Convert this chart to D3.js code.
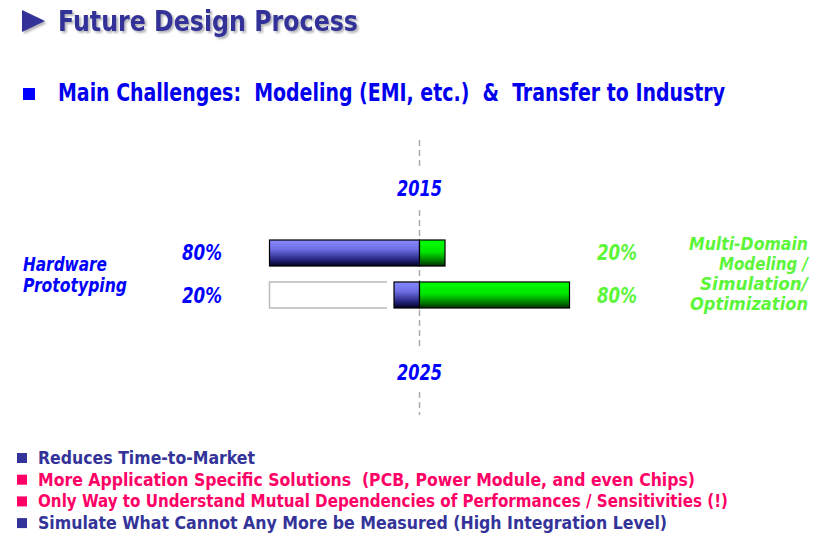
<!DOCTYPE html>
<html>
<head>
<meta charset="utf-8">
<script src="https://cdn.jsdelivr.net/npm/d3@7"></script>
<style>
  body { margin: 0; background: #fff; }
  text { font-family: "DejaVu Sans Condensed", "DejaVu Sans", sans-serif; font-weight: bold; white-space: pre; }
</style>
</head>
<body>
<div id="chart"></div>
<script>
// rows of the comparison (top = today, bottom = future)
const years = ["2015", "2025"];
const hwShare = [80, 20];          // hardware prototyping, %
const simShare = [20, 80];         // multi-domain modeling, %
// bar extents as drawn, in the same percent units
const hwLen = [80, 13.6];
const simLen = [13.6, 80];
const oldHwLen = [0, 80];          // empty outline of the old hardware share
const oldHwGap = [0, 17.3];
const bullets = [
  "Reduces Time-to-Market",
  "More Application Specific Solutions  (PCB, Power Module, and even Chips)",
  "Only Way to Understand Mutual Dependencies of Performances / Sensitivities (!)",
  "Simulate What Cannot Any More be Measured (High Integration Level)"
];
const bulletColors = ["#333399", "#ff0066", "#ff0066", "#333399"];
const bulletWidths = [217, 657, 690, 629];
const simLabel = ["Multi-Domain", "Modeling /", "Simulation/", "Optimization"];
const simLabelW = [119, 89, 108, 118];
const hwLabel = ["Hardware", "Prototyping"];
const hwLabelW = [84, 104];

var W = 826, H = 542;
var svg = d3.select("#chart").append("svg")
    .attr("width", W).attr("height", H);

var defs = svg.append("defs");
function grad(id, stops) {
    var g = defs.append("linearGradient").attr("id", id)
        .attr("x1", 0).attr("y1", 0).attr("x2", 0).attr("y2", 1);
    stops.forEach(function (s) {
        g.append("stop").attr("offset", s[0]).attr("stop-color", s[1]);
    });
}
grad("gBlue", [[0, "#8888ff"], [0.35, "#7070e6"], [0.75, "#262680"], [1, "#000022"]]);
grad("gGreen", [[0, "#00ff00"], [0.45, "#00e600"], [0.8, "#007a00"], [1, "#002a00"]]);

var shadow = defs.append("filter").attr("id", "sh")
    .attr("x", -0.05).attr("y", -0.2).attr("width", 1.1).attr("height", 1.5);
shadow.append("feOffset").attr("in", "SourceAlpha").attr("dx", 2).attr("dy", 2).attr("result", "o");
shadow.append("feGaussianBlur").attr("in", "o").attr("stdDeviation", 0.8).attr("result", "b");
shadow.append("feComponentTransfer").attr("in", "b").attr("result", "c")
    .append("feFuncA").attr("type", "linear").attr("slope", 0.3);
var mg = shadow.append("feMerge");
mg.append("feMergeNode").attr("in", "c");
mg.append("feMergeNode").attr("in", "SourceGraphic");

// title
svg.append("path")
    .attr("d", "M22,10 L45,21 L22,32 Z")
    .attr("fill", "#333399").attr("filter", "url(#sh)");
svg.append("text")
    .attr("x", 58).attr("y", 31)
    .attr("font-size", 29)
    .attr("fill", "#333399")
    .attr("textLength", 300).attr("lengthAdjust", "spacingAndGlyphs")
    .attr("filter", "url(#sh)")
    .text("Future Design Process");

// subtitle
svg.append("rect").attr("x", 23).attr("y", 88).attr("width", 12).attr("height", 12).attr("fill", "#0000ff");
svg.append("text")
    .attr("x", 58).attr("y", 101)
    .attr("font-size", 24)
    .attr("fill", "#0000ee")
    .attr("textLength", 667).attr("lengthAdjust", "spacingAndGlyphs")
    .text("Main Challenges:  Modeling (EMI, etc.)  &  Transfer to Industry");

// scales
var x = d3.scaleLinear().domain([-80, 80]).range([269.5, 569.5]);
var y = d3.scaleBand().domain(years).range([240, 308]).paddingInner(0.38).paddingOuter(0);
var bh = y.bandwidth();

// dashed centre line, broken around the year labels
var cx = x(0);
[[140, 167], [210, 350], [392, 415]].forEach(function (s) {
    svg.append("line")
        .attr("x1", cx).attr("x2", cx).attr("y1", s[0]).attr("y2", s[1])
        .attr("stroke", "#aaaaaa").attr("stroke-width", 1.5)
        .attr("stroke-dasharray", "6,4");
});

// year labels
var yearY = [196, 380];
years.forEach(function (yr, i) {
    svg.append("text")
        .attr("x", cx).attr("y", yearY[i])
        .attr("text-anchor", "middle")
        .attr("font-size", 21).attr("font-style", "italic")
        .attr("fill", "#0000ff")
        .attr("textLength", 45).attr("lengthAdjust", "spacingAndGlyphs")
        .text(yr);
});

// bars
var pctY = [260, 303];
years.forEach(function (yr, i) {
    var top = y(yr);
    if (oldHwLen[i] > 0) {
        var x0 = x(-oldHwLen[i]), x1 = x(-oldHwGap[i]);
        svg.append("path")
            .attr("d", "M" + x1 + "," + top + " H" + x0 + " V" + (top + bh) + " H" + x1)
            .attr("fill", "none").attr("stroke", "#bbbbbb").attr("stroke-width", 1.5);
    }
    svg.append("rect")
        .attr("x", x(-hwLen[i])).attr("y", top)
        .attr("width", x(0) - x(-hwLen[i])).attr("height", bh)
        .attr("fill", "url(#gBlue)").attr("stroke", "#000").attr("stroke-width", 1.2);
    svg.append("rect")
        .attr("x", x(0)).attr("y", top)
        .attr("width", x(simLen[i]) - x(0)).attr("height", bh)
        .attr("fill", "url(#gGreen)").attr("stroke", "#000").attr("stroke-width", 1.2);

    svg.append("text")
        .attr("x", 182).attr("y", pctY[i])
        .attr("font-size", 21).attr("font-style", "italic")
        .attr("fill", "#0000ff")
        .attr("textLength", 40).attr("lengthAdjust", "spacingAndGlyphs")
        .text(hwShare[i] + "%");
    svg.append("text")
        .attr("x", 597).attr("y", pctY[i])
        .attr("font-size", 21).attr("font-style", "italic")
        .attr("fill", "#5cf53a")
        .attr("textLength", 40).attr("lengthAdjust", "spacingAndGlyphs")
        .text(simShare[i] + "%");
});

// side labels
var hwY = [271, 292];
hwLabel.forEach(function (t, i) {
    svg.append("text")
        .attr("x", 23).attr("y", hwY[i])
        .attr("font-size", 19).attr("font-style", "italic")
        .attr("fill", "#0000ff")
        .attr("textLength", hwLabelW[i]).attr("lengthAdjust", "spacingAndGlyphs")
        .text(t);
});
var simY = [250, 270, 290, 310];
simLabel.forEach(function (t, i) {
    svg.append("text")
        .attr("x", 808).attr("y", simY[i])
        .attr("text-anchor", "end")
        .attr("font-size", 17).attr("font-style", "italic")
        .attr("fill", "#5cf53a")
        .attr("textLength", simLabelW[i]).attr("lengthAdjust", "spacingAndGlyphs")
        .text(t);
});

// bullet list
bullets.forEach(function (t, i) {
    var by = 464 + i * 21.7;
    svg.append("rect")
        .attr("x", 17).attr("y", by - 11).attr("width", 10).attr("height", 10)
        .attr("fill", bulletColors[i]);
    svg.append("text")
        .attr("x", 38).attr("y", by)
        .attr("font-size", 18)
        .attr("fill", bulletColors[i])
        .attr("textLength", bulletWidths[i]).attr("lengthAdjust", "spacingAndGlyphs")
        .text(t);
});
</script>
</body>
</html>
